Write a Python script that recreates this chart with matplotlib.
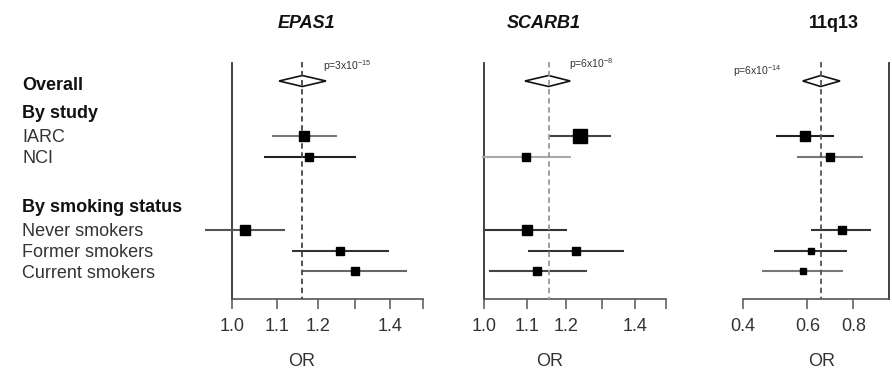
import numpy as np
import matplotlib.pyplot as plt
from matplotlib.ticker import NullLocator, FixedLocator, FixedFormatter
from matplotlib.patches import Polygon

plt.rcParams['font.family'] = ['Liberation Sans', 'DejaVu Sans']
plt.rcParams['mathtext.fontset'] = 'custom'
plt.rcParams['mathtext.rm'] = 'Liberation Sans'

# ---- data (odds ratios) ----
genes = ['EPAS1', 'SCARB1', '11q13']
row_labels = ['IARC', 'NCI', 'Never smokers', 'Former smokers', 'Current smokers']

epas1_or = [1.166, 1.178, 1.028, 1.259, 1.299]
epas1_lo = [1.089, 1.069, 0.944, 1.135, 1.161]
epas1_hi = [1.250, 1.301, 1.119, 1.397, 1.450]
epas1_wt = [9, 7, 9, 6, 6]
epas1_overall = [1.161, 1.105, 1.221]

scarb1_or = [1.238, 1.098, 1.101, 1.227, 1.126]
scarb1_lo = [1.154, 0.995, 1.002, 1.103, 1.010]
scarb1_hi = [1.325, 1.212, 1.202, 1.365, 1.258]
scarb1_wt = [12, 6, 8, 7, 7]
scarb1_overall = [1.154, 1.095, 1.211]

q13_or = [0.591, 0.691, 0.744, 0.613, 0.585]
q13_lo = [0.493, 0.561, 0.613, 0.487, 0.451]
q13_hi = [0.709, 0.848, 0.892, 0.770, 0.751]
q13_wt = [8, 7, 6, 5, 5]
q13_overall = [0.652, 0.583, 0.736]

pvals = [r'p=3x10$^{-15}$', r'p=6x10$^{-8}$', r'p=6x10$^{-14}$']

ticks_a = [1.0, 1.1, 1.2, 1.3, 1.4, 1.5]
ticklab_a = ['1.0', '1.1', '1.2', '', '1.4', '']
ticks_b = [0.4, 0.6, 0.8]
ticklab_b = ['0.4', '0.6', '0.8']

# ---- layout (figure pixels) ----
W, H = 892, 374
row_y = [136, 157, 230.5, 251, 271.5]
overall_y = 81

fig = plt.figure(figsize=(W / 100, H / 100), dpi=100)

def fx(p):
    return p / W

def fy(p):
    return 1 - p / H

panels = [
    dict(data=(epas1_or, epas1_lo, epas1_hi, epas1_wt, epas1_overall),
         box=(195, 432), xlim=(0.924, 1.530), bounds=(1.0, 1.5),
         ticks=ticks_a, labs=ticklab_a, title_x=306, italic=True,
         ci_col=['#777', '#222', '#555', '#333', '#666'], dash='#444',
         p_xy=(323, 66), or_x=302),
    dict(data=(scarb1_or, scarb1_lo, scarb1_hi, scarb1_wt, scarb1_overall),
         box=(470, 675), xlim=(0.969, 1.529), bounds=(1.0, 1.5),
         ticks=ticks_a, labs=ticklab_a, title_x=544, italic=True,
         ci_col=['#444', '#aaa', '#333', '#333', '#444'], dash='#999',
         p_xy=(569, 64), or_x=550),
    dict(data=(q13_or, q13_lo, q13_hi, q13_wt, q13_overall),
         box=(735, 891), xlim=(0.3815, 1.0126), bounds=(0.4, 1.0),
         ticks=ticks_b, labs=ticklab_b, title_x=834, italic=False,
         ci_col=['#222', '#777', '#333', '#333', '#777'], dash='#555',
         p_xy=(733, 71), or_x=822),
]

top_px, bot_px = 55, 299
for g, pn, pv in zip(genes, panels, pvals):
    l, r = pn['box']
    ax = fig.add_axes([fx(l), fy(bot_px), (r - l) / W, (bot_px - top_px) / H])
    ax.set_xscale('log')
    ax.set_xlim(*pn['xlim'])
    ax.set_ylim(bot_px, top_px)
    for s in ['left', 'top', 'right']:
        ax.spines[s].set_visible(False)
    ax.spines['bottom'].set_bounds(*pn['bounds'])
    ax.spines['bottom'].set_color('#555')
    ax.spines['bottom'].set_linewidth(1.2)
    ax.yaxis.set_visible(False)
    ax.xaxis.set_major_locator(FixedLocator(pn['ticks']))
    ax.xaxis.set_major_formatter(FixedFormatter(pn['labs']))
    ax.xaxis.set_minor_locator(NullLocator())
    ax.tick_params(axis='x', length=7.5, width=1.1, color='#555', pad=6,
                   labelsize=13, labelcolor='#333')

    est, lo, hi, wt, ov = pn['data']
    # null line at OR = 1
    ax.plot([1.0, 1.0], [63, bot_px], color='#333', lw=1.3, zorder=2,
            clip_on=False)
    # overall estimate line
    ax.plot([ov[0], ov[0]], [62, bot_px], color=pn['dash'], lw=1.3,
            ls=(0, (3, 2)), zorder=4)
    # diamond
    dia = Polygon([(ov[1], overall_y), (ov[0], overall_y - 5.5),
                   (ov[2], overall_y), (ov[0], overall_y + 5.5)],
                  closed=True, facecolor='white', edgecolor='#111', lw=1.2,
                  zorder=3)
    ax.add_patch(dia)
    for i in range(len(est)):
        ax.plot([lo[i], hi[i]], [row_y[i], row_y[i]], color=pn['ci_col'][i],
                lw=1.5, zorder=3, solid_capstyle='butt')
        ax.plot(est[i], row_y[i], marker='s', ms=wt[i] * 0.85, color='black',
                zorder=5)

    fig.text(fx(pn['title_x']), fy(23), g, fontsize=13, fontweight='bold',
             fontstyle='italic' if pn['italic'] else 'normal',
             ha='center', va='center', color='#111')
    fig.text(fx(pn['p_xy'][0]), fy(pn['p_xy'][1]), pv,
             fontsize=7.5, ha='left', va='center', color='#333')
    fig.text(fx(pn['or_x']), fy(362), 'OR', fontsize=13, ha='center',
             va='center', color='#333')

# ---- row labels ----
label_x = 22
fig.text(fx(label_x), fy(85), 'Overall', fontsize=13, fontweight='bold',
         va='center', color='#111')
fig.text(fx(label_x), fy(113), 'By study', fontsize=13, fontweight='bold',
         va='center', color='#111')
fig.text(fx(label_x), fy(208), 'By smoking status', fontsize=13,
         fontweight='bold', va='center', color='#111')
for lab, y in zip(row_labels, row_y):
    fig.text(fx(label_x), fy(y + 1.5), lab, fontsize=13, va='center',
             color='#333')

fig.savefig('out.png', dpi=100)
